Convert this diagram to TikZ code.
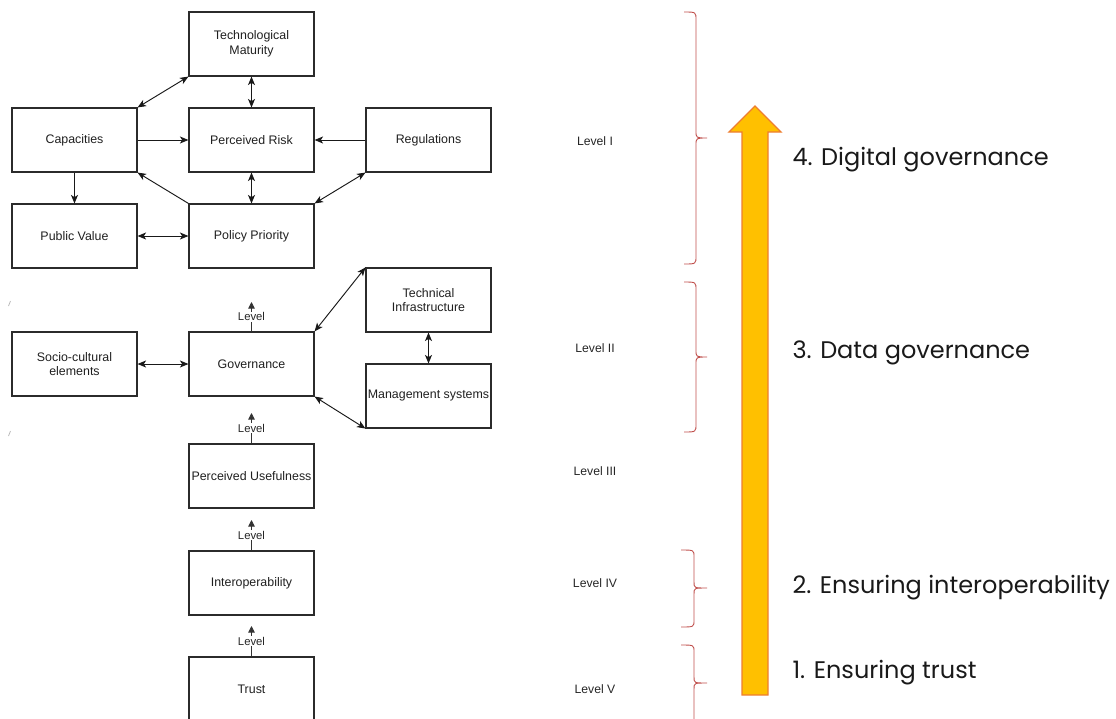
\documentclass[tikz,border=0pt]{standalone}
\usepackage{fontspec}
\setmainfont{Liberation Sans}
\newfontfamily\headfont{Poppins}
\usetikzlibrary{arrows.meta}
\definecolor{boxline}{HTML}{2B2B2B}
\definecolor{bracecol}{HTML}{C0504D}
\definecolor{arrowfill}{HTML}{FFC000}
\definecolor{arrowline}{HTML}{ED7D31}
\tikzset{
  box/.style={draw=boxline, line width=1.1pt, minimum width=125pt, minimum height=64pt,
    inner sep=1pt, align=center, font=\fontsize{12.4}{14.8}\selectfont, text=black!88},
  link/.style={line width=0.95pt, draw=black!90},
  both/.style={link, {Stealth[length=8.5pt,width=7pt,inset=2.2pt]}-{Stealth[length=8.5pt,width=7pt,inset=2.2pt]}},
  one/.style={link, -{Stealth[length=8.5pt,width=7pt,inset=2.2pt]}},
  lvl/.style={line width=0.8pt, draw=black!80, -{Triangle[length=6.5pt,width=6.5pt]}},
  lvltxt/.style={fill=white, inner sep=1pt, font=\fontsize{11.3}{12}\selectfont, text=black!85},
  lvlname/.style={font=\fontsize{12.2}{13}\selectfont, text=black!85},
  stage/.style={anchor=west, font=\headfont\fontsize{24}{26}\selectfont, text=black!90},
  bracepath/.style={draw=bracecol, line width=0.9pt},
}
\begin{document}
\begin{tikzpicture}[x=1pt, y=-1pt]
\useasboundingbox (0,0) rectangle (1116,718);
\clip (0,0) rectangle (1116,718);

% ---- Level I cluster ----
\node[box] (tm)  at (251.5,44)  {Technological\\Maturity};
\node[box] (cap) at (74.5,140)  {Capacities};
\node[box] (pr)  at (251.5,140) {Perceived Risk};
\node[box] (reg) at (428.5,140) {Regulations};
\node[box] (pv)  at (74.5,236)  {Public Value};
\node[box] (pp)  at (251.5,236) {Policy Priority};

\draw[both] (cap.north east) -- (tm.south west);
\draw[both] (tm.south) -- (pr.north);
\draw[one]  (cap.east) -- (pr.west);
\draw[one]  (reg.west) -- (pr.east);
\draw[one]  (cap.south) -- (pv.north);
\draw[one]  (pp.north west) -- (cap.south east);
\draw[both] (pr.south) -- (pp.north);
\draw[both] (reg.south west) -- (pp.north east);
\draw[both] (pv.east) -- (pp.west);

% ---- Level II cluster ----
\node[box] (ti)  at (428.5,300) {Technical\\Infrastructure};
\node[box] (sc)  at (74.5,364)  {Socio-cultural\\elements};
\node[box] (gov) at (251.5,364) {Governance};
\node[box] (ms)  at (428.5,396) {Management systems};

\draw[both] (gov.north east) -- (ti.north west);
\draw[both] (sc.east) -- (gov.west);
\draw[both] (ti.south) -- (ms.north);
\draw[both] (gov.south east) -- (ms.south west);

% ---- Levels III to V ----
\node[box] (pu)    at (251.5,476) {Perceived Usefulness};
\node[box] (io)    at (251.5,583) {Interoperability};
\node[box] (trust) at (251.5,689) {Trust};

% level markers above the boxes
\coordinate (lvgov) at (251.5,302);
\coordinate (lvpu)  at (251.5,413);
\coordinate (lvio)  at (251.5,520);
\coordinate (lvtr)  at (251.5,626);
\draw[lvl] (gov.north)   -- node[lvltxt]{Level} (lvgov);
\draw[lvl] (pu.north)    -- node[lvltxt]{Level} (lvpu);
\draw[lvl] (io.north)    -- node[lvltxt]{Level} (lvio);
\draw[lvl] (trust.north) -- node[lvltxt]{Level} (lvtr);

% small stray strokes at the left margin
\draw[gray!55, line width=0.8pt] (8.5,306) -- (10.5,301);
\draw[gray!55, line width=0.8pt] (8.5,436) -- (10.5,431);

% ---- level names ----
\node[lvlname] (l1) at (595,141) {Level I};
\node[lvlname] (l2) at (595,348) {Level II};
\node[lvlname] (l3) at (595,471) {Level III};
\node[lvlname] (l4) at (595,583) {Level IV};
\node[lvlname] (l5) at (595,689) {Level V};

% ---- braces ----
\path[bracepath] (684,12) .. controls (696,12) .. (696,20) -- (696,131)
  .. controls (696,138) .. (707,138) .. controls (696,138) .. (696,145)
  -- (696,256) .. controls (696,264) .. (684,264);
\path[bracepath] (684,282) .. controls (696,282) .. (696,290) -- (696,350)
  .. controls (696,357) .. (707,357) .. controls (696,357) .. (696,364)
  -- (696,424) .. controls (696,432) .. (684,432);
\path[bracepath] (681,550) .. controls (694,550) .. (694,557) -- (694,582)
  .. controls (694,588) .. (707,588) .. controls (694,588) .. (694,594)
  -- (694,620) .. controls (694,627) .. (681,627);
\path[bracepath] (681,645) .. controls (694,645) .. (694,652) -- (694,677)
  .. controls (694,683) .. (707,683) .. controls (694,683) .. (694,689)
  -- (694,730);

% ---- progression arrow ----
\filldraw[fill=arrowfill, draw=arrowline, line width=1.3pt, line join=miter]
  (742,695) -- (742,132) -- (729,132) -- (755,106) -- (781,132) -- (768,132)
  -- (768,695) -- cycle;

% ---- stages ----
\node[stage] (s4) at (789,160) {4. Digital governance};
\node[stage] (s3) at (789,353) {3. Data governance};
\node[stage] (s2) at (789,588) {2. Ensuring interoperability};
\node[stage] (s1) at (789,673) {1. Ensuring trust};
\end{tikzpicture}
\end{document}
